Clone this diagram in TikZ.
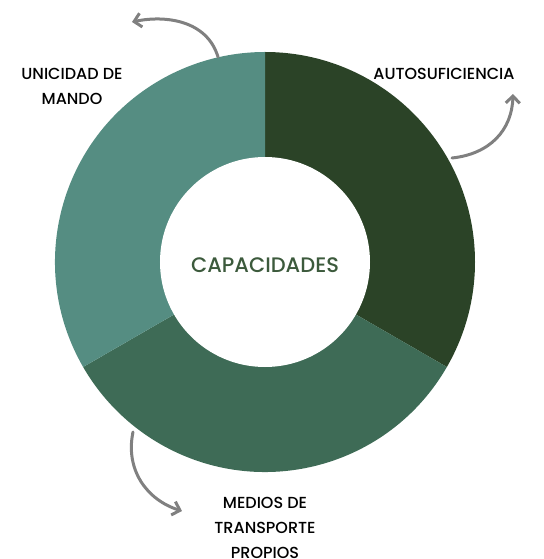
\documentclass[tikz,border=0pt]{standalone}
\usepackage{fontspec}
\setmainfont{Poppins Medium}
\usepackage{tikz}
\usetikzlibrary{arrows.meta,positioning}
\definecolor{verdeosc}{HTML}{2B4327}
\definecolor{verdemed}{HTML}{3E6B56}
\definecolor{verdecla}{HTML}{558D82}
\definecolor{textoverde}{HTML}{3C5A3C}
\definecolor{flecha}{HTML}{808080}

\begin{document}
\begin{tikzpicture}[x=1pt,y=1pt,
    label/.style={font=\fontsize{16}{25}\selectfont, align=center, text=black, inner sep=0pt},
    curva/.style={draw=flecha, line width=3pt, line cap=round, -{Straight Barb[length=7pt,width=14pt,line width=3pt]}}]
   \useasboundingbox (-265,-297) rectangle (278,262);
   % sectores
   \fill[verdeosc] (0,0) -- (90:210) arc (90:-30:210) -- cycle;
   \fill[verdemed] (0,0) -- (-30:210) arc (-30:-150:210) -- cycle;
   \fill[verdecla] (0,0) -- (210:210) arc (210:90:210) -- cycle;
   \fill[white] (0,0) circle (105);
   \node[label, text=textoverde, font=\fontsize{21}{24}\selectfont] (centro) at (0,-3) {CAPACIDADES};
   \node[label] (mando) at (-193,176) {UNICIDAD DE\\MANDO};
   \node[label] (auto) at (179,188) {AUTOSUFICIENCIA};
   \node[label] (medios) at (0,-266) {MEDIOS DE\\TRANSPORTE\\PROPIOS};
   % flechas
   \coordinate (a1) at (-47,205);
   \coordinate (b1) at (-133,240);
   \coordinate (a2) at (187,104);
   \coordinate (b2) at (248,168);
   \coordinate (a3) at (-132,-170);
   \coordinate (b3) at (-83,-249);
   \draw[curva] (a1) .. controls (-58,242) and (-100,247) .. (b1);
   \draw[curva] (a2) .. controls (225,108) and (247,132) .. (b2);
   \draw[curva] (a3) .. controls (-140,-208) and (-118,-238) .. (b3);
\end{tikzpicture}
\end{document}
